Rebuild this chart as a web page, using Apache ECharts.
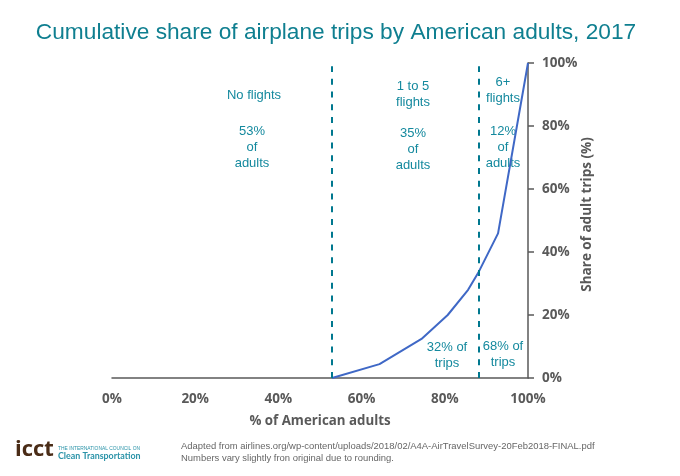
<!DOCTYPE html>
<html lang="en">
  <head>
    <meta charset="UTF-8" />
    <title>Cumulative share of airplane trips</title>
    <script src="https://cdn.jsdelivr.net/npm/echarts@6/dist/echarts.min.js"></script>
    <style>
      body,
      html {
        margin: 0;
        background: #fff;
      }
    </style>
  </head>
  <body>
    <div id="chart" style="width:680px;height:476px"></div>
    <script>
      var adultShare = [52.9, 64.3, 74.4, 80.7, 85.6, 88, 92.8, 100];
      var tripShare = [0, 4.4, 12.4, 20, 28, 33.3, 45.9, 100];
      var dividers = [52.8, 88.2];
      var dividerTop = 99;

      var teal = "#14899e";
      var gray = "#595959";
      var labelFont = "'Liberation Sans', Arial, sans-serif";
      var axisFont = "'Open Sans', 'Noto Sans', sans-serif";

      // annotation inside the plot, cx/top in page pixels
      function note(cx, top, text) {
        return {
          type: "text",
          x: cx,
          y: top,
          style: {
            text: text,
            fill: teal,
            font: "13px " + labelFont,
            align: "center",
            lineHeight: 16
          }
        };
      }

      var option = {
        animation: false,
        backgroundColor: "#fff",
        title: {
          text: "Cumulative share of airplane trips by American adults, 2017",
          left: 331,
          top: 16,
          textAlign: "center",
          textStyle: {
            color: "#0f7f90",
            fontFamily: labelFont,
            fontSize: 22.7,
            fontWeight: "normal"
          }
        },
        grid: { left: 112, right: 152, top: 63, bottom: 98 },
        xAxis: {
          type: "value",
          min: 0,
          max: 100,
          interval: 20,
          name: "% of American adults",
          nameLocation: "middle",
          nameGap: 37,
          nameTextStyle: {
            color: gray,
            fontFamily: axisFont,
            fontWeight: "bold",
            fontSize: 13.3
          },
          axisLine: { onZero: false, lineStyle: { color: gray, width: 1.5 } },
          axisTick: { show: false },
          splitLine: { show: false },
          axisLabel: {
            margin: 14,
            color: gray,
            fontFamily: axisFont,
            fontWeight: "bold",
            fontSize: 13.5,
            formatter: "{value}%"
          }
        },
        yAxis: {
          type: "value",
          position: "right",
          min: 0,
          max: 100,
          interval: 20,
          name: "Share of adult trips (%)",
          nameLocation: "middle",
          nameRotate: 90,
          nameGap: 52,
          nameMoveOverlap: false,
          nameTextStyle: {
            color: gray,
            fontFamily: axisFont,
            fontWeight: "bold",
            fontSize: 13.5,
            padding: [0, 0, 0, 12]
          },
          axisLine: { show: true, onZero: false, lineStyle: { color: gray, width: 1.5 } },
          axisTick: { show: true, length: 6, lineStyle: { color: gray, width: 1.5 } },
          splitLine: { show: false },
          axisLabel: {
            margin: 14,
            color: gray,
            fontFamily: axisFont,
            fontWeight: "bold",
            fontSize: 13.5,
            formatter: "{value}%"
          }
        },
        series: [
          {
            type: "line",
            data: adultShare.map(function(x, i) {
              return [x, tripShare[i]];
            }),
            showSymbol: false,
            smooth: false,
            lineStyle: { color: "#3f68c6", width: 2 },
            markLine: {
              silent: true,
              symbol: "none",
              label: { show: false },
              lineStyle: { color: "#00788f", width: 2, type: [6, 6.75] },
              data: dividers.map(function(v) {
                return [{ coord: [v, 0] }, { coord: [v, dividerTop] }];
              })
            }
          }
        ],
        graphic: [
          note(254, 87, "No flights"),
          note(252, 123, "53%\nof\nadults"),
          note(413, 78, "1 to 5\nflights"),
          note(413, 125, "35%\nof\nadults"),
          note(503, 74, "6+\nflights"),
          note(503, 123, "12%\nof\nadults"),
          note(447, 339, "32% of\ntrips"),
          note(503, 338, "68% of\ntrips"),
          {
            type: "text",
            x: 15,
            y: 439,
            style: {
              text: "icct",
              fill: "#4a2c17",
              font: "bold 22px " + axisFont
            }
          },
          {
            type: "text",
            x: 58,
            y: 446,
            style: {
              text: "THE INTERNATIONAL COUNCIL ON",
              fill: "#2a93a8",
              font: "4.9px " + labelFont
            }
          },
          {
            type: "text",
            x: 58,
            y: 452,
            style: {
              text: "Clean Transportation",
              fill: "#2a93a8",
              font: "bold 8.9px Lato, sans-serif"
            }
          },
          {
            type: "text",
            x: 181,
            y: 441,
            style: {
              text:
                "Adapted from airlines.org/wp-content/uploads/2018/02/A4A-AirTravelSurvey-20Feb2018-FINAL.pdf\nNumbers vary slightly fron original due to rounding.",
              fill: "#666",
              font: "9.45px " + labelFont,
              lineHeight: 11.5
            }
          }
        ]
      };

      var chart = echarts.init(document.getElementById("chart"));
      chart.setOption(option);
    </script>
  </body>
</html>
